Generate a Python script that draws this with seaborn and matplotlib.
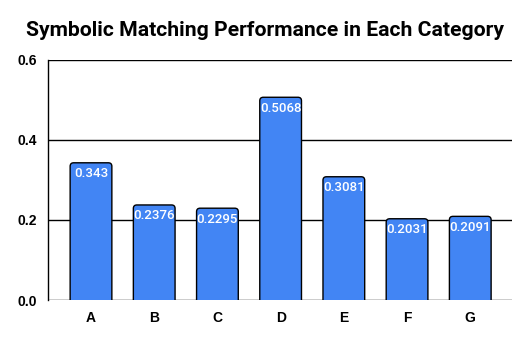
import matplotlib
matplotlib.use("Agg")
import matplotlib.pyplot as plt
import seaborn as sns
import pandas as pd
from matplotlib.patches import FancyBboxPatch

categories = ["A", "B", "C", "D", "E", "F", "G"]
values = [0.343, 0.2376, 0.2295, 0.5068, 0.3081, 0.2031, 0.2091]
value_labels = ["0.343", "0.2376", "0.2295", "0.5068", "0.3081", "0.2031", "0.2091"]
yticks = [0.0, 0.2, 0.4, 0.6]

sns.set_theme(style="white")
plt.rcParams['font.family'] = ['Roboto', 'DejaVu Sans']

df = pd.DataFrame({"cat": categories, "val": values})
fig = plt.figure(figsize=(5.3, 3.42), dpi=100)
ax = fig.add_axes([0.0906, 0.1228, 0.8754, 0.7018])

sns.barplot(data=df, x="cat", y="val", color="#4285F4", width=0.66, ax=ax, saturation=1)

ax.set_xlim(-0.68, 6.66)
ax.set_ylim(0, 0.6)

# replace bars with rounded-top versions
xpp = (6.66 + 0.68) / (0.8754 * 530)
ypp = 0.6 / (0.7018 * 342)
for p in list(ax.patches):
    x0, w, h = p.get_x(), p.get_width(), p.get_height()
    p.remove()
    fb = FancyBboxPatch((x0, -0.02), w, h + 0.02,
                        boxstyle="round,pad=0,rounding_size=%f" % (3.5 * xpp),
                        mutation_aspect=ypp / xpp,
                        facecolor="#4285F4", edgecolor="black", linewidth=1.0,
                        zorder=3, clip_on=True)
    ax.add_patch(fb)

for i, (v, lab) in enumerate(zip(values, value_labels)):
    ax.text(i, v - 11 * ypp, lab, ha="center", va="center", color="white",
            fontsize=9.5, fontweight="medium", zorder=4)

ax.set_yticks(yticks)
ax.set_yticklabels(["0.0", "0.2", "0.4", "0.6"], fontsize=10, fontweight="bold",
                   family=['Liberation Sans', 'DejaVu Sans'])
ax.set_xticks(range(len(categories)))
ax.set_xticklabels(categories, fontsize=10, fontweight="bold",
                   family=['Liberation Sans', 'DejaVu Sans'])
ax.tick_params(axis="both", length=0, pad=8, colors="black")
for yv in yticks:
    ax.axhline(yv, color="black", linewidth=1.0, zorder=1)
for s in ["top", "right", "bottom"]:
    ax.spines[s].set_visible(False)
ax.spines["left"].set_color("black")
ax.spines["left"].set_linewidth(1.0)
ax.set_xlabel("")
ax.set_ylabel("")

fig.text(0.5, 0.91, "Symbolic Matching Performance in Each Category", ha="center",
         va="center", fontsize=15.2, fontweight="bold", color="black")

fig.savefig("out.png", dpi=100)
